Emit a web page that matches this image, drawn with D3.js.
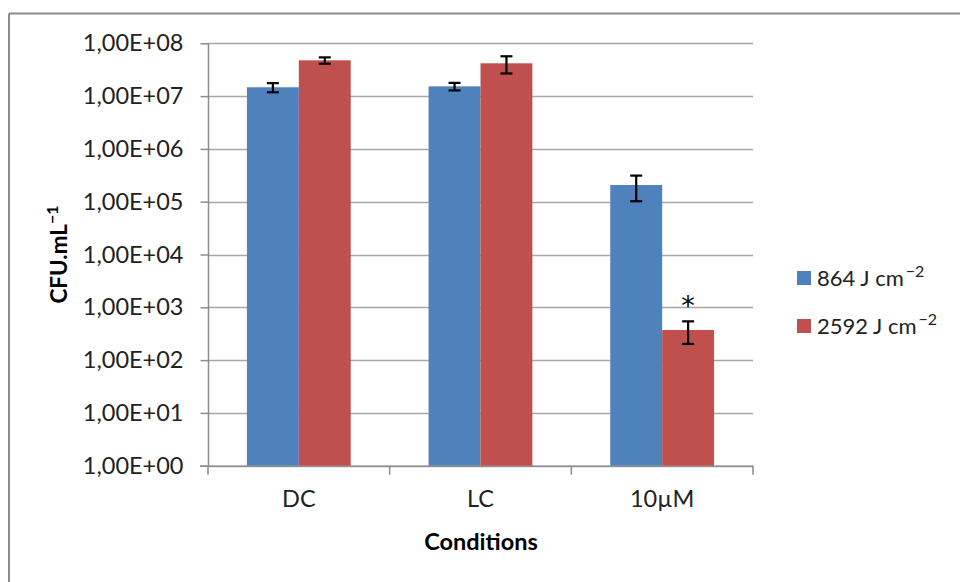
<!DOCTYPE html>
<html lang="en">
	<head>
		<title>CFU per condition</title>
		<meta charset="utf-8">
		<script src="https://d3js.org/d3.v7.min.js"></script>
		<style>
			body { margin: 0; background: #fff; }
			text { font-family: Lato, "Open Sans", sans-serif; fill: #222; }
		</style>
	</head>
	<body>
		<div id="plotContent"></div>
		<script>
// data
var categories = ["DC", "LC", "10\u00b5M"];
var seriesNames = ["864", "2592"];
var values864 = [1.47e7, 1.53e7, 2.07e5];
var errors864 = [2.9e6, 2.5e6, 1.05e5];
var values2592 = [4.76e7, 4.18e7, 372];
var errors2592 = [6.5e6, 1.5e7, 170];
var significant2592 = [false, false, true];
var yTicks = [1, 10, 100, 1e3, 1e4, 1e5, 1e6, 1e7, 1e8];
var colors = ["#4f81bd", "#c0504d"];

var width = 960, height = 582;
var plot = {left: 208, right: 753, top: 43.3, bottom: 465.7};

var svg = d3.select("#plotContent")
	.append("svg")
	.attr("width", width)
	.attr("height", height);

// outer frame (top and left edges only visible)
svg.append("line")
	.attr("x1", 9).attr("x2", width).attr("y1", 13.5).attr("y2", 13.5)
	.attr("stroke", "#8c8c8c").attr("stroke-width", 2);
svg.append("line")
	.attr("x1", 9).attr("x2", 9).attr("y1", 13.5).attr("y2", height)
	.attr("stroke", "#8c8c8c").attr("stroke-width", 2);

// scales
var y = d3.scaleLog()
	.domain([1, 1e8])
	.range([plot.bottom, plot.top]);

var x = d3.scaleBand()
	.domain(categories)
	.range([plot.left, plot.right])
	.padding(0);

var xSub = d3.scaleBand()
	.domain(seriesNames)
	.range([0, x.bandwidth()])
	.paddingInner(0)
	.paddingOuter(0.75);

// gridlines
svg.append("g")
	.selectAll("line")
	.data(yTicks)
	.enter()
	.append("line")
	.attr("x1", plot.left).attr("x2", plot.right)
	.attr("y1", function (d) { return Math.round(y(d)) + 0.5; })
	.attr("y2", function (d) { return Math.round(y(d)) + 0.5; })
	.attr("stroke", "#a6a6a6")
	.attr("stroke-width", 1.5);

// Y axis
var fmt = function (d) {
	var e = Math.round(Math.log10(d));
	return "1,00E+" + (e < 10 ? "0" : "") + e;
};
var yAxis = svg.append("g")
	.attr("transform", "translate(" + (plot.left + 0.5) + ",0)")
	.call(d3.axisLeft(y).tickValues(yTicks).tickFormat(fmt).tickSize(8).tickPadding(17));
yAxis.select(".domain").attr("stroke", "#8c8c8c").attr("stroke-width", 1.5)
	.attr("d", "M0," + plot.top + "V" + plot.bottom);
yAxis.selectAll(".tick line").attr("stroke", "#8c8c8c").attr("stroke-width", 1.5);
yAxis.selectAll(".tick text")
	.style("font-family", "Lato, sans-serif")
	.style("font-size", "23.5px")
	.attr("fill", "#222");

// X axis
var xAxis = svg.append("g")
	.attr("transform", "translate(0," + (plot.bottom + 0.5) + ")")
	.call(d3.axisBottom(x).tickSize(0).tickPadding(24));
xAxis.select(".domain").attr("stroke", "#8c8c8c").attr("stroke-width", 1.5)
	.attr("d", "M" + (plot.left - 8) + ",0H" + plot.right);
xAxis.selectAll(".tick text")
	.style("font-family", "Lato, sans-serif")
	.style("font-size", "23.5px")
	.attr("fill", "#222");
// category boundary ticks
svg.append("g")
	.selectAll("line")
	.data(categories.concat(["end"]))
	.enter()
	.append("line")
	.attr("x1", function (d) { return d === "end" ? plot.right : x(d); })
	.attr("x2", function (d) { return d === "end" ? plot.right : x(d); })
	.attr("y1", plot.bottom)
	.attr("y2", plot.bottom + 9)
	.attr("stroke", "#8c8c8c")
	.attr("stroke-width", 1.5);

// bars
var series = [
	{name: "864", values: values864, errors: errors864},
	{name: "2592", values: values2592, errors: errors2592}
];

series.forEach(function (s, si) {
	var g = svg.append("g");
	g.selectAll("rect")
		.data(categories)
		.enter()
		.append("rect")
		.attr("x", function (c) { return x(c) + xSub(s.name); })
		.attr("width", xSub.bandwidth())
		.attr("y", function (c, i) { return y(s.values[i]); })
		.attr("height", function (c, i) { return plot.bottom - y(s.values[i]); })
		.attr("fill", colors[si]);

	// error bars
	var eb = svg.append("g").attr("stroke", "#000").attr("stroke-width", 2.2);
	categories.forEach(function (c, i) {
		var cx = x(c) + xSub(s.name) + xSub.bandwidth() / 2;
		var hi = y(s.values[i] + s.errors[i]);
		var lo = y(s.values[i] - s.errors[i]);
		eb.append("line").attr("x1", cx).attr("x2", cx).attr("y1", hi).attr("y2", lo);
		eb.append("line").attr("x1", cx - 6).attr("x2", cx + 6).attr("y1", hi).attr("y2", hi);
		eb.append("line").attr("x1", cx - 6).attr("x2", cx + 6).attr("y1", lo).attr("y2", lo);
	});
});

// significance star
svg.append("g")
	.selectAll("text")
	.data(categories.filter(function (c, i) { return significant2592[i]; }))
	.enter()
	.append("text")
	.attr("x", function (c) { return x(c) + xSub("2592") + xSub.bandwidth() / 2; })
	.attr("y", function (c) { return y(values2592[categories.indexOf(c)] + errors2592[categories.indexOf(c)]) - 6; })
	.attr("text-anchor", "middle")
	.style("font-family", "'DejaVu Sans', sans-serif")
	.style("font-size", "27px")
	.style("fill", "#000")
	.text("*");

// axis titles
var yTitle = svg.append("text")
	.attr("transform", "translate(67," + ((plot.top + plot.bottom) / 2) + ") rotate(-90)")
	.attr("text-anchor", "middle")
	.style("font-size", "22.5px")
	.style("font-weight", "bold")
	.style("fill", "#000");
yTitle.append("tspan").text("CFU.mL");
yTitle.append("tspan").attr("dy", -9).style("font-size", "16px").text("\u22121");

svg.append("text")
	.attr("x", (plot.left + plot.right) / 2 + 0.5)
	.attr("y", 550)
	.attr("text-anchor", "middle")
	.style("font-size", "23.5px")
	.style("font-weight", "bold")
	.style("fill", "#000")
	.text("Conditions");

// legend
var legend = svg.append("g")
	.selectAll("g")
	.data(seriesNames)
	.enter()
	.append("g")
	.attr("transform", function (d, i) { return "translate(797," + (271 + i * 48) + ")"; });
legend.append("rect")
	.attr("width", 14)
	.attr("height", 14)
	.attr("fill", function (d, i) { return colors[i]; });
var lt = legend.append("text")
	.attr("x", 20)
	.attr("y", 15)
	.style("font-size", "22px");
lt.append("tspan").text(function (d) { return d + " J cm"; });
lt.append("tspan").attr("dy", -9).attr("dx", 2).style("font-size", "16px").text("\u22122");
		</script>
	</body>
</html>
